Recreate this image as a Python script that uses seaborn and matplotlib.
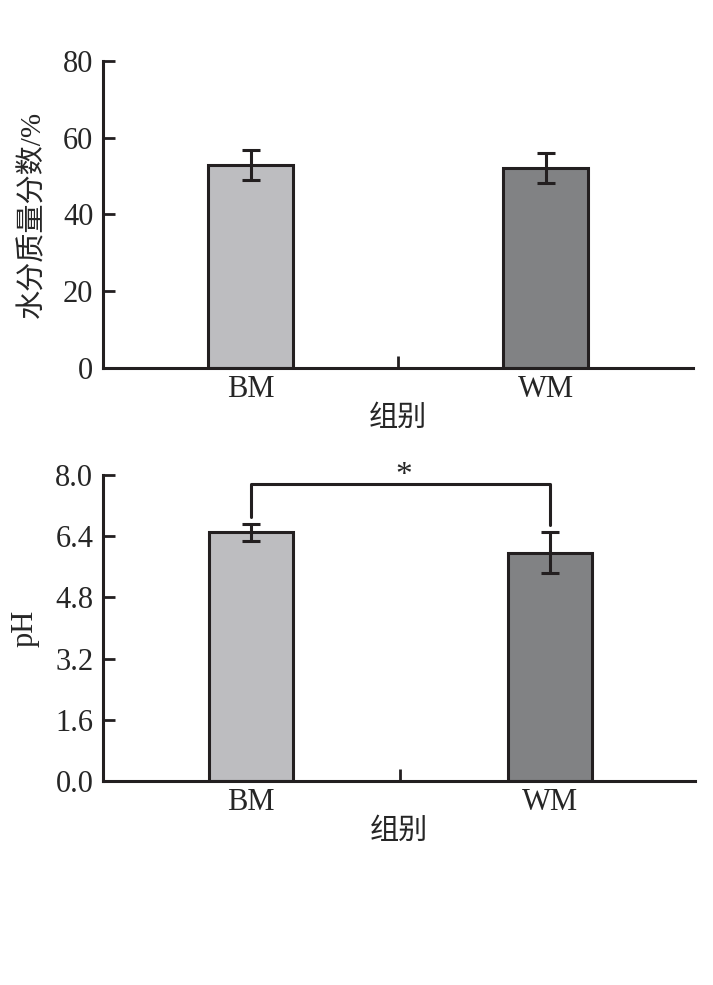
import matplotlib
matplotlib.use("Agg")
import matplotlib.pyplot as plt
import seaborn as sns
import pandas as pd

# ---- data ----
groups = ["BM", "WM"]
water_mean = [52.9, 52.0]
water_err = [3.8, 3.9]
ph_mean = [6.50, 5.97]
ph_err = [0.23, 0.53]
water_ticks = [0, 20, 40, 60, 80]
ph_ticks = [0.0, 1.6, 3.2, 4.8, 6.4, 8.0]
ph_tick_labels = ["0.0", "1.6", "3.2", "4.8", "6.4", "8.0"]
bracket_y = 7.76
bracket_legs = [6.91, 6.69]
sig_label = "*"
xlabel = "组别"
ylabel_top = "水分质量分数/%"
ylabel_bottom = "pH"

sns.set_style("ticks")
plt.rcParams['font.family'] = ['Liberation Serif', 'Noto Sans CJK SC']
plt.rcParams['axes.unicode_minus'] = False

FS = 22
CJK_FS = 21
colors = ["#BCBDC1", "#808285"]
edge = "#231F20"

fig = plt.figure(figsize=(7.13, 9.85), dpi=100)
ax1 = fig.add_axes([0.1445, 0.6264, 0.8275, 0.3117])
ax2 = fig.add_axes([0.1445, 0.2071, 0.8300, 0.3107])


def draw(ax, means, errs, ylim, yticks, yticklabels, ylabel, width, ylabel_x,
         ylabel_fs, xlim):
    df = pd.DataFrame({"g": groups, "v": means})
    sns.barplot(data=df, x="g", y="v", hue="g", palette=colors, legend=False,
                width=width, edgecolor=edge, linewidth=2.2, errorbar=None, ax=ax)
    ax.errorbar(range(len(groups)), means, yerr=errs, fmt="none", ecolor=edge,
                elinewidth=2.2, capsize=6.5, capthick=2.2, zorder=5)
    ax.set_xlim(*xlim)
    ax.set_ylim(*ylim)
    ax.set_yticks(yticks)
    ax.set_yticklabels(yticklabels, fontsize=FS)
    ax.set_xticks([0, 1])
    ax.set_xticklabels(groups, fontsize=FS)
    ax.set_xticks([0.5], minor=True)
    ax.tick_params(axis="x", which="major", length=0, pad=5)
    ax.tick_params(axis="x", which="minor", length=8.5, width=2, direction="in",
                   color=edge)
    ax.tick_params(axis="y", which="major", length=8.5, width=2, direction="in",
                   color=edge, pad=7)
    for s in ["top", "right"]:
        ax.spines[s].set_visible(False)
    for s in ["left", "bottom"]:
        ax.spines[s].set_linewidth(2.2)
        ax.spines[s].set_color(edge)
    ax.set_xlabel(xlabel, fontsize=CJK_FS, labelpad=1)
    ax.set_ylabel(ylabel, fontsize=ylabel_fs)
    ax.yaxis.set_label_coords(ylabel_x, 0.5)


draw(ax1, water_mean, water_err, (0, 80), water_ticks,
     [str(t) for t in water_ticks], ylabel_top, 0.285, -0.097, CJK_FS,
     (-0.5, 1.5))
draw(ax2, ph_mean, ph_err, (0, 8), ph_ticks, ph_tick_labels, ylabel_bottom, 0.28,
     -0.107, FS, (-0.495, 1.485))

# significance bracket
ax2.plot([0, 0, 1, 1], [bracket_legs[0], bracket_y, bracket_y, bracket_legs[1]],
         color=edge, lw=2.2, clip_on=False, zorder=6)
ax2.text(0.51, bracket_y + 0.0, sig_label, ha="center", va="baseline",
         fontsize=FS + 2, clip_on=False)

fig.savefig("out.png", dpi=100, facecolor="white")
